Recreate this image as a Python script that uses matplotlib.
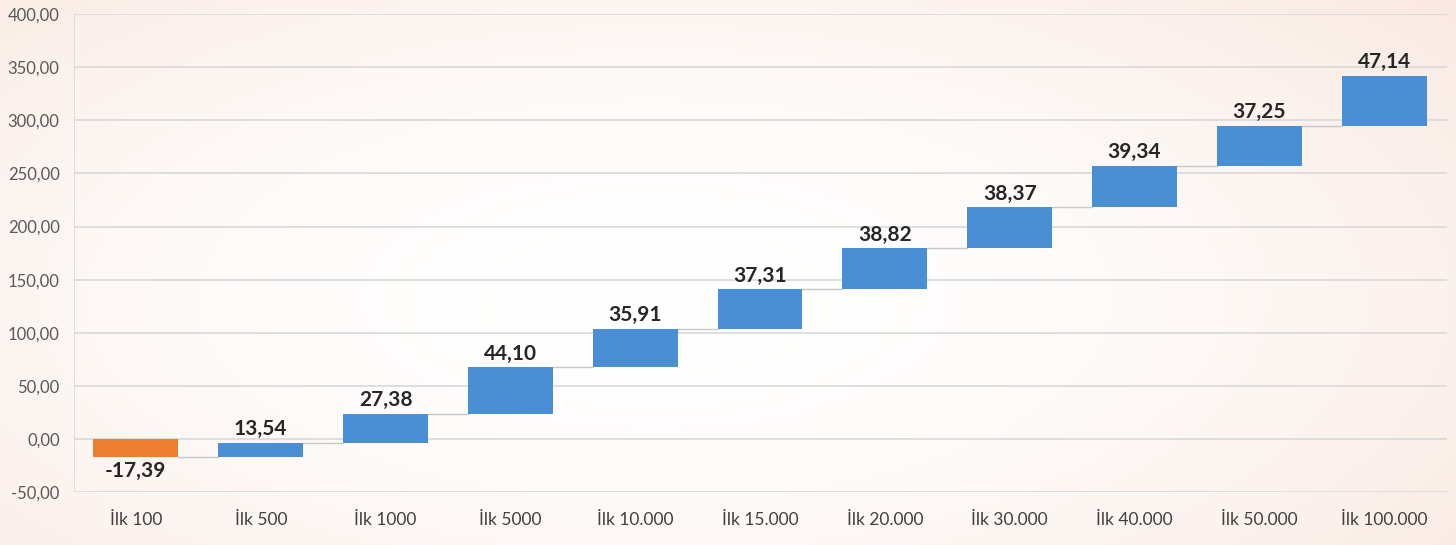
import matplotlib
matplotlib.use("Agg")
import matplotlib.pyplot as plt
import numpy as np

categories = ["İlk 100", "İlk 500", "İlk 1000", "İlk 5000", "İlk 10.000", "İlk 15.000",
              "İlk 20.000", "İlk 30.000", "İlk 40.000", "İlk 50.000", "İlk 100.000"]
changes = [-17.39, 13.54, 27.38, 44.10, 35.91, 37.31, 38.82, 38.37, 39.34, 37.25, 47.14]
yticks = [-50, 0, 50, 100, 150, 200, 250, 300, 350, 400]

plt.rcParams['font.family'] = ['Lato', 'DejaVu Sans']

fig = plt.figure(figsize=(14.56, 5.45), dpi=100)

# background gradient
bg = fig.add_axes([0, 0, 1, 1], zorder=-10)
yy, xx = np.mgrid[0:1:200j, 0:1:500j]
d = np.sqrt(((xx - 0.45) / 0.8) ** 2 + ((yy - 0.45) / 0.95) ** 2)
d = np.clip(d, 0, 1) ** 1.8
c0 = np.array([1.0, 1.0, 1.0])
c1 = np.array([0.975, 0.895, 0.86])
img = c0[None, None, :] * (1 - d[..., None]) + c1[None, None, :] * d[..., None]
bg.imshow(img, aspect='auto', extent=[0, 1, 0, 1], origin='lower')
bg.axis('off')

ax = fig.add_axes([0.0505, 0.097, 0.943, 0.877])
ax.patch.set_alpha(0)

x = np.arange(len(categories))
cum = np.cumsum(changes)
starts = cum - np.array(changes)
bottoms = np.minimum(starts, cum)
heights = np.abs(changes)
colors = ['#ed7d31' if v < 0 else '#4a8fd4' for v in changes]
w = 0.68
ax.bar(x, heights, bottom=bottoms, width=w, color=colors, zorder=3)

# connectors
for i in range(len(x) - 1):
    ax.plot([x[i] + w / 2, x[i + 1] - w / 2], [cum[i], cum[i]], color='#c8c8c8', lw=1, zorder=2)

for i, v in enumerate(changes):
    lab = f"{v:.2f}".replace('.', ',')
    if v < 0:
        ax.text(x[i], bottoms[i] - 3, lab, ha='center', va='top', fontsize=15,
                fontweight='bold', color='#262626')
    else:
        ax.text(x[i], cum[i] + 3.5, lab, ha='center', va='bottom', fontsize=15,
                fontweight='bold', color='#262626')

ax.set_xlim(-0.5, len(x) - 0.5)
ax.set_ylim(-50, 400)
ax.set_yticks(yticks)
ax.set_yticklabels([f"{t:.2f}".replace('.', ',') for t in yticks], fontsize=12, color='#595959')
ax.set_xticks(x)
ax.set_xticklabels(categories, fontsize=12.5, color='#404040')
ax.tick_params(axis='both', length=0)
ax.tick_params(axis='x', pad=14)
ax.tick_params(axis='y', pad=10)
ax.grid(axis='y', color='#d9d9d9', lw=1.2, zorder=0)
for s in ax.spines.values():
    s.set_visible(False)
ax.axvline(-0.5, color='#d9d9d9', lw=1.2, zorder=0)

fig.savefig("out.png", dpi=100)
